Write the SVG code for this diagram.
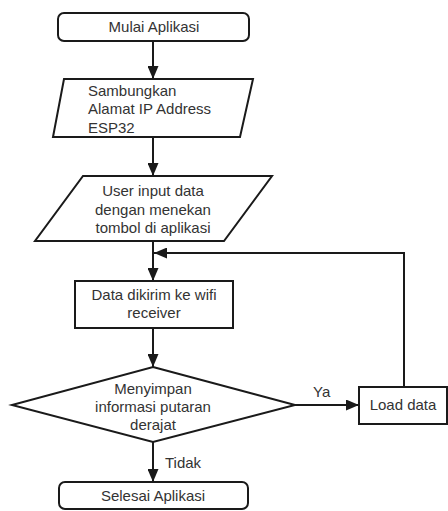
<svg xmlns="http://www.w3.org/2000/svg" width="448" height="511" viewBox="0 0 448 511">
<style>
.s{fill:#fff;stroke:#1a1a1a;stroke-width:2}
.t{font-family:"Liberation Sans",Arial,sans-serif;font-size:15px;fill:#333}
.c{text-anchor:middle}
.l{fill:none;stroke:#1a1a1a;stroke-width:2}
</style>
<defs>
<marker id="a" markerUnits="userSpaceOnUse" markerWidth="13" markerHeight="11" refX="13" refY="5.5" orient="auto"><path d="M0,0 L13,5.5 L0,11 z" fill="#1a1a1a"/></marker>
</defs>
<rect width="448" height="511" fill="#fff"/>
<g id="connectors">
<line class="l" x1="153" y1="41" x2="153" y2="79" marker-end="url(#a)"/>
<line class="l" x1="153" y1="137" x2="153" y2="176" marker-end="url(#a)"/>
<line class="l" x1="153" y1="241" x2="153" y2="281" marker-end="url(#a)"/>
<line class="l" x1="153" y1="328" x2="153" y2="367" marker-end="url(#a)"/>
<line class="l" x1="295" y1="405" x2="359" y2="405" marker-end="url(#a)"/>
<polyline class="l" points="404,387 404,253 154,253" marker-end="url(#a)"/>
<line class="l" x1="153" y1="442" x2="153" y2="482" marker-end="url(#a)"/>
<text class="t" x="313" y="397">Ya</text>
<text class="t" x="165" y="468">Tidak</text>
</g>
<g id="start">
<rect class="s" x="58" y="13" width="191" height="28" rx="6"/>
<text class="t c" x="154" y="32">Mulai Aplikasi</text>
</g>
<g id="connect">
<polygon class="s" points="64,79 253,79 240,137 53,137"/>
<text class="t" x="88" y="96">Sambungkan</text>
<text class="t" x="88" y="114">Alamat IP Address</text>
<text class="t" x="88" y="133">ESP32</text>
</g>
<g id="input">
<polygon class="s" points="83,176 272,176 224,241 35,241"/>
<text class="t c" x="153" y="196">User input data</text>
<text class="t c" x="153" y="214.5">dengan menekan</text>
<text class="t c" x="153" y="233">tombol di aplikasi</text>
</g>
<g id="send">
<rect class="s" x="75" y="281" width="158" height="47"/>
<text class="t c" x="154" y="300">Data dikirim ke wifi</text>
<text class="t c" x="154" y="318">receiver</text>
</g>
<g id="decision">
<polygon class="s" points="153,367 295,405 153,442 12,405"/>
<text class="t c" x="153" y="394">Menyimpan</text>
<text class="t c" x="153" y="412">informasi putaran</text>
<text class="t c" x="153" y="430">derajat</text>
</g>
<g id="load">
<rect class="s" x="359" y="387" width="88" height="37"/>
<text class="t c" x="403" y="410">Load data</text>
</g>
<g id="end">
<rect class="s" x="59" y="482" width="189" height="27" rx="6"/>
<text class="t c" x="153" y="501">Selesai Aplikasi</text>
</g>
</svg>
